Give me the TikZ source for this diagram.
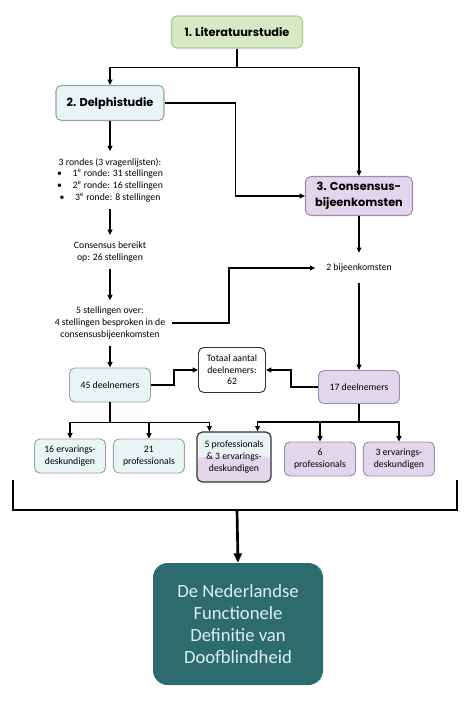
\documentclass[tikz,border=0pt]{standalone}
\usepackage{fontspec}
\setmainfont{Carlito}
\newfontfamily\headfont{Poppins}
\usetikzlibrary{positioning,arrows.meta,calc}
\definecolor{litfill}{HTML}{D6E8C4}
\definecolor{litline}{HTML}{A9C993}
\definecolor{delfill}{HTML}{EAF4F4}
\definecolor{delline}{HTML}{8DA7A9}
\definecolor{consfill}{HTML}{E1D6EB}
\definecolor{consline}{HTML}{9B8CAD}
\definecolor{endfill}{HTML}{2D6B6E}
\definecolor{endtext}{HTML}{DDF0F0}
\def\px{0.75pt}
\tikzset{
  arr/.style={line width=0.9pt, -{Triangle[length=4pt,width=3.6pt]}},
  line/.style={line width=0.9pt},
  txt/.style={align=center, inner sep=5pt, font=\fontsize{7.3}{8.7}\selectfont},
  box/.style={draw, rounded corners=4pt, align=center, inner sep=1pt, line width=0.7pt,
    font=\fontsize{7.3}{8.7}\selectfont},
  head/.style={box, line width=0.8pt, font=\headfont\fontsize{8.5}{12}\selectfont\bfseries},
  blue box/.style={box, fill=delfill, draw=delline},
  lilac box/.style={box, fill=consfill, draw=consline},
  small box/.style={minimum width=71*\px, minimum height=34*\px}
}
\begin{document}
\begin{tikzpicture}[x=0.75pt,y=-0.75pt]
\useasboundingbox (0,0) rectangle (474,701);

\node (lit) [head, fill=litfill, draw=litline, minimum width=131*\px, minimum height=32*\px] at (237,32) {1. Literatuurstudie};
\node (delphi) [head, fill=delfill, draw=delline, minimum width=108*\px, minimum height=35*\px] at (110,103) {2. Delphistudie};
\node (cons) [head, fill=consfill, draw=consline, minimum width=107*\px, minimum height=39*\px] at (359,196) {3. Consensus-\\bijeenkomsten};

\node (rounds) [txt] at (110,180) {3 rondes (3 vragenlijsten):\\
  \textbullet\hspace{1.1em}1\textsuperscript{e} ronde: 31 stellingen\\
  \textbullet\hspace{1.1em}2\textsuperscript{e} ronde: 16 stellingen\\
  \textbullet\hspace{1.1em}3\textsuperscript{e} ronde: 8 stellingen};
\node (reached) [txt] at (110,252) {Consensus bereikt\\op: 26 stellingen};
\node (over) [txt] at (110,323) {5 stellingen over:\\4 stellingen besproken in de\\consensusbijeenkomsten};
\node (meet) [txt, inner sep=8pt] at (359,268) {2 bijeenkomsten};

\node (n45) [blue box, minimum width=81*\px, minimum height=34*\px] at (110,385) {45 deelnemers};
\node (total) [box, fill=white, draw=black!80, minimum width=67*\px, minimum height=45*\px] at (232,370) {Totaal aantal\\deelnemers:\\62};
\node (n17) [lilac box, minimum width=81*\px, minimum height=33*\px] at (359,387) {17 deelnemers};

\node (ervA) [blue box, small box] at (70,456) {16 ervarings-\\deskundigen};
\node (profA) [blue box, small box, right=5.25pt of ervA] {21\\professionals};
\node (mix) [box, draw=black!80, line width=0.9pt, fill=delfill, minimum width=74*\px, minimum height=50*\px,
  path picture={\fill[consfill] (path picture bounding box.west) rectangle (path picture bounding box.south east);}]
  at (234,457) {5 professionals\\\& 3 ervarings-\\deskundigen};
\node (profB) [lilac box, small box] at (320,459) {6\\professionals};
\node (ervB) [lilac box, small box, right=5.25pt of profB] {3 ervarings-\\deskundigen};

\node (def) [fill=endfill, rounded corners=11pt, minimum width=170*\px, minimum height=122*\px, align=center,
  text=endtext, font=\fontsize{14}{16.5}\selectfont] at (238,624) {De Nederlandse\\Functionele\\Definitie van\\Doofblindheid};

% top split
\draw [line] (lit.south) -- ++(0,19) coordinate (split);
\draw [arr] (split) -| (delphi.north);
\draw [arr] (split) -| (cons.north);
\draw [arr] (delphi.east) -- ++(71,0) |- (cons.west);

% delphi column
\draw [arr] (delphi.south) -- (rounds.north);
\draw [arr] (rounds.south) -- (reached.north);
\draw [arr] (reached.south) -- (over.north);
\draw [arr] (over.south) -- (n45.north);
\draw [arr] (over.east) -- ++(57,0) |- (meet.west);

% consensus column
\draw [arr] (cons.south) -- (meet.north);
\draw [arr] (meet.south) -- (n17.north);

\draw [arr] (n45.east) -- ++(23,0) |- (total.west);
\draw [arr] (n17.west) -- ++(-27,0) |- (total.east);

% bottom split
\draw [line] (n45.south) -- ++(0,20) coordinate (s45);
\draw [arr] (s45) -| (ervA.north);
\draw [arr] (s45) -| (profA.north);
\draw [arr] (s45) -| ($(mix.north west)+(13,0)$);
\draw [line] (n17.south) -- ++(0,18) coordinate (s17);
\draw [arr] (s17) -| ($(mix.north east)+(-14,0)$);
\draw [arr] (s17) -| (profB.north);
\draw [arr] (s17) -| (ervB.north);

% bracket
\draw [line width=2.2pt] (13,480) |- (457,510) -- (457,480);
\coordinate (brk) at (237,510);
\draw [line width=2pt, -{Triangle[length=7pt,width=6pt]}] (brk) -- (def.north);
\end{tikzpicture}
\end{document}
